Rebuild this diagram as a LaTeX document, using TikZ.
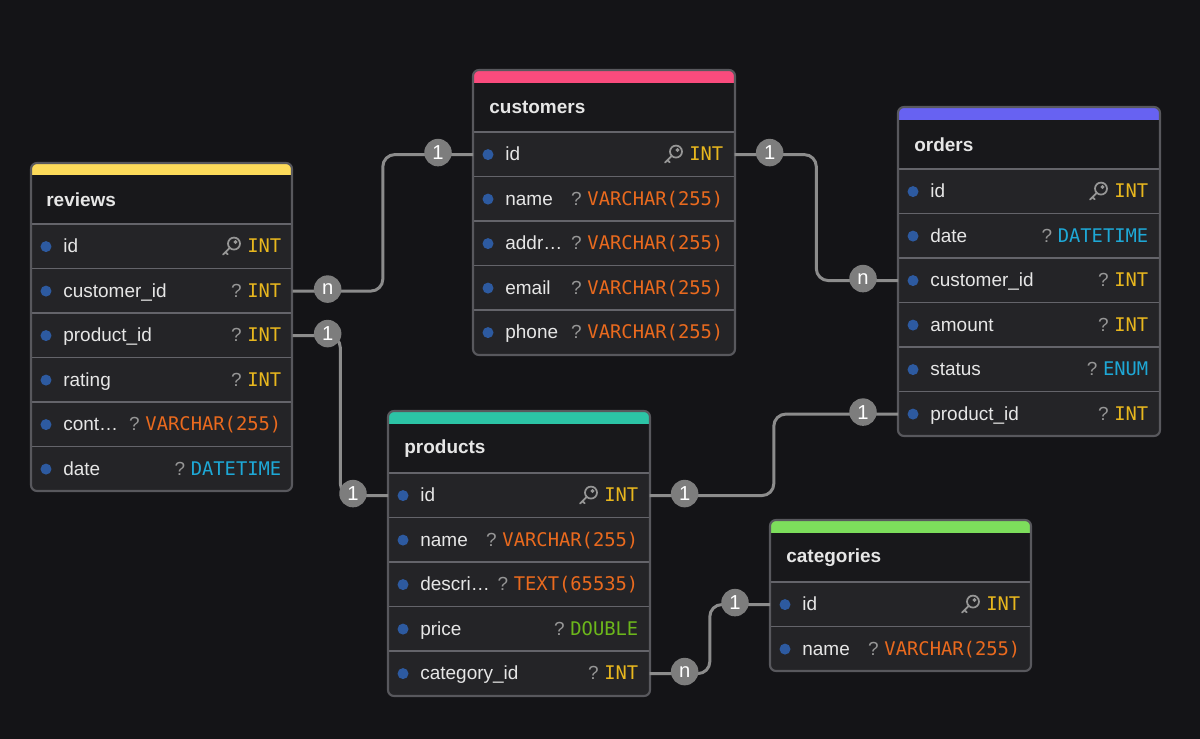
\documentclass[tikz,border=0pt]{standalone}
\usepackage{fontspec}
\setmainfont{Liberation Sans}
\setmonofont{DejaVu Sans Mono}
\usetikzlibrary{positioning,calc}
\definecolor{bgcolor}{RGB}{20,20,23}
\definecolor{headcolor}{RGB}{24,24,27}
\definecolor{rowcolor}{RGB}{36,36,39}
\definecolor{bordercolor}{RGB}{88,88,93}
\definecolor{sepcolor}{RGB}{100,100,106}
\definecolor{linkcolor}{RGB}{140,140,140}
\definecolor{badgecolor}{RGB}{125,125,125}
\definecolor{dotcolor}{RGB}{45,90,160}
\definecolor{namecolor}{RGB}{230,230,230}
\definecolor{qcolor}{RGB}{150,150,150}
\definecolor{intcolor}{RGB}{232,183,30}
\definecolor{varcolor}{RGB}{234,106,30}
\definecolor{datecolor}{RGB}{30,168,214}
\definecolor{dblcolor}{RGB}{108,183,27}
\definecolor{reviewcolor}{RGB}{252,218,90}
\definecolor{customercolor}{RGB}{250,75,125}
\definecolor{ordercolor}{RGB}{103,98,242}
\definecolor{productcolor}{RGB}{44,196,166}
\definecolor{categorycolor}{RGB}{125,222,92}

\begin{document}
\begin{tikzpicture}[x=0.02cm, y=-0.02cm,
    rowbox/.style={rectangle, fill=rowcolor, minimum width=5.22cm, minimum height=0.89cm, inner sep=0, anchor=north west},
    sepline/.style={draw=sepcolor, line width=0.8pt},
    tabborder/.style={draw=bordercolor, line width=1.2pt, rounded corners=0.12cm},
    tabtitle/.style={anchor=west, inner sep=0, text=namecolor, font=\fontsize{10.8}{13}\selectfont\bfseries},
    field/.style={anchor=west, inner sep=0, text=namecolor, font=\fontsize{10.8}{13}\selectfont, text height=0.88em, text depth=0.16em},
    ftype/.style={anchor=east, inner sep=0, font=\fontsize{10.7}{13}\selectfont\ttfamily, text height=0.88em, text depth=0.16em},
    qmark/.style={inner sep=0, text=qcolor, font=\fontsize{10.8}{13}\selectfont, text height=0.88em, text depth=0.16em},
    fdot/.style={circle, fill=dotcolor, minimum size=0.22cm, inner sep=0},
    link/.style={draw=linkcolor, line width=1.7pt, rounded corners=0.24cm},
    badge/.style={circle, fill=badgecolor, minimum size=0.55cm, inner sep=0, text=white, font=\fontsize{11.5}{12}\selectfont},
    pkey/.pic={
        \draw[qcolor, line width=1pt] (3,-3) circle[radius=0.12cm];
        \draw[qcolor, line width=0.7pt] (4.5,-4.5) circle[radius=0.025cm];
        \draw[qcolor, line width=1pt, line cap=round] (-1.2,1.2) -- (-8,8) (-5.5,5.5) -- (-3.3,7.7);
    }
]

\fill[bgcolor] (0,0) rectangle (1200,739);
\useasboundingbox (0,0) rectangle (1200,739);

% reviews
\begin{scope}
\clip[rounded corners=0.12cm] (31,163) rectangle (292,491);
\fill[headcolor] (31,163) rectangle (292,224);
\fill[reviewcolor] (31,163) rectangle (292,175);
\foreach \i/\nm/\lbl/\q/\ty/\tc in {0/id/id/{}/INT/intcolor, 1/cid/customer\_id/?/INT/intcolor,
    2/pid/product\_id/?/INT/intcolor, 3/rating/rating/?/INT/intcolor,
    4/cont/cont…/?/VARCHAR(255)/varcolor, 5/date/date/?/DATETIME/datecolor}{
  \node[rowbox] (rev-\nm) at (31,224+44.5*\i) {};
  \draw[sepline] (rev-\nm.north west) -- (rev-\nm.north east);
  \node[fdot] at ([xshift=0.3cm]rev-\nm.west) {};
  \node[field] at ([xshift=0.64cm]rev-\nm.west) {\lbl};
  \node[ftype, text=\tc] (rev-\nm-t) at ([xshift=-0.22cm]rev-\nm.east) {\ty};
  \node[qmark, left=0.1cm of rev-\nm-t] {\q};
}
\end{scope}
\draw[tabborder] (31,163) rectangle (292,491);
\node[tabtitle] (rev) at (46,199.5) {reviews};
\pic at ([xshift=-0.32cm]rev-id-t.west) {pkey};

% customers
\begin{scope}
\clip[rounded corners=0.12cm] (473,70) rectangle (735,355);
\fill[headcolor] (473,70) rectangle (735,132);
\fill[customercolor] (473,70) rectangle (735,83);
\foreach \i/\nm/\lbl/\q/\ty/\tc in {0/id/id/{}/INT/intcolor, 1/name/name/?/VARCHAR(255)/varcolor,
    2/addr/addr…/?/VARCHAR(255)/varcolor, 3/email/email/?/VARCHAR(255)/varcolor,
    4/phone/phone/?/VARCHAR(255)/varcolor}{
  \node[rowbox] (cus-\nm) at (473,132+44.5*\i) {};
  \draw[sepline] (cus-\nm.north west) -- (cus-\nm.north east);
  \node[fdot] at ([xshift=0.3cm]cus-\nm.west) {};
  \node[field] at ([xshift=0.64cm]cus-\nm.west) {\lbl};
  \node[ftype, text=\tc] (cus-\nm-t) at ([xshift=-0.22cm]cus-\nm.east) {\ty};
  \node[qmark, left=0.1cm of cus-\nm-t] {\q};
}
\end{scope}
\draw[tabborder] (473,70) rectangle (735,355);
\node[tabtitle] (cus) at (489,107.5) {customers};
\pic at ([xshift=-0.32cm]cus-id-t.west) {pkey};

% orders
\begin{scope}
\clip[rounded corners=0.12cm] (898,107) rectangle (1160,436);
\fill[headcolor] (898,107) rectangle (1160,169);
\fill[ordercolor] (898,107) rectangle (1160,120);
\foreach \i/\nm/\lbl/\q/\ty/\tc in {0/id/id/{}/INT/intcolor, 1/date/date/?/DATETIME/datecolor,
    2/cid/customer\_id/?/INT/intcolor, 3/amount/amount/?/INT/intcolor,
    4/status/status/?/ENUM/datecolor, 5/pid/product\_id/?/INT/intcolor}{
  \node[rowbox] (ord-\nm) at (898,169+44.5*\i) {};
  \draw[sepline] (ord-\nm.north west) -- (ord-\nm.north east);
  \node[fdot] at ([xshift=0.3cm]ord-\nm.west) {};
  \node[field] at ([xshift=0.64cm]ord-\nm.west) {\lbl};
  \node[ftype, text=\tc] (ord-\nm-t) at ([xshift=-0.22cm]ord-\nm.east) {\ty};
  \node[qmark, left=0.1cm of ord-\nm-t] {\q};
}
\end{scope}
\draw[tabborder] (898,107) rectangle (1160,436);
\node[tabtitle] (ord) at (914,144.5) {orders};
\pic at ([xshift=-0.32cm]ord-id-t.west) {pkey};

% products
\begin{scope}
\clip[rounded corners=0.12cm] (388,411) rectangle (650,696);
\fill[headcolor] (388,411) rectangle (650,473);
\fill[productcolor] (388,411) rectangle (650,424);
\foreach \i/\nm/\lbl/\q/\ty/\tc in {0/id/id/{}/INT/intcolor, 1/name/name/?/VARCHAR(255)/varcolor,
    2/descr/descri…/?/TEXT(65535)/varcolor, 3/price/price/?/DOUBLE/dblcolor,
    4/catid/category\_id/?/INT/intcolor}{
  \node[rowbox] (pro-\nm) at (388,473+44.5*\i) {};
  \draw[sepline] (pro-\nm.north west) -- (pro-\nm.north east);
  \node[fdot] at ([xshift=0.3cm]pro-\nm.west) {};
  \node[field] at ([xshift=0.64cm]pro-\nm.west) {\lbl};
  \node[ftype, text=\tc] (pro-\nm-t) at ([xshift=-0.22cm]pro-\nm.east) {\ty};
  \node[qmark, left=0.1cm of pro-\nm-t] {\q};
}
\end{scope}
\draw[tabborder] (388,411) rectangle (650,696);
\node[tabtitle] (pro) at (404,448.5) {products};
\pic at ([xshift=-0.32cm]pro-id-t.west) {pkey};

% categories
\begin{scope}
\clip[rounded corners=0.12cm] (770,520) rectangle (1031,671);
\fill[headcolor] (770,520) rectangle (1031,582);
\fill[categorycolor] (770,520) rectangle (1031,533);
\foreach \i/\nm/\lbl/\q/\ty/\tc in {0/id/id/{}/INT/intcolor, 1/name/name/?/VARCHAR(255)/varcolor}{
  \node[rowbox] (cat-\nm) at (770,582+44.5*\i) {};
  \draw[sepline] (cat-\nm.north west) -- (cat-\nm.north east);
  \node[fdot] at ([xshift=0.3cm]cat-\nm.west) {};
  \node[field] at ([xshift=0.64cm]cat-\nm.west) {\lbl};
  \node[ftype, text=\tc] (cat-\nm-t) at ([xshift=-0.22cm]cat-\nm.east) {\ty};
  \node[qmark, left=0.1cm of cat-\nm-t] {\q};
}
\end{scope}
\draw[tabborder] (770,520) rectangle (1031,671);
\node[tabtitle] (cat) at (786,557.5) {categories};
\pic at ([xshift=-0.32cm]cat-id-t.west) {pkey};

% Relations
\draw[link] (rev-cid.east) -| ($(rev-cid.east)!0.5!(cus-id.west)$) |- (cus-id.west);
\draw[link] (cus-id.east) -| ($(cus-id.east)!0.5!(ord-cid.west)$) |- (ord-cid.west);
\draw[link] (rev-pid.east) -| ($(rev-pid.east)!0.5!(pro-id.west)$) |- (pro-id.west);
\draw[link] (pro-id.east) -| ($(pro-id.east)!0.5!(ord-pid.west)$) |- (ord-pid.west);
\draw[link] (pro-catid.east) -| ($(pro-catid.east)!0.5!(cat-id.west)$) |- (cat-id.west);

% Cardinality badges
\node[badge] at ([xshift=0.7cm,yshift=0.04cm]rev-cid.east) {n};
\node[badge] at ([xshift=-0.7cm,yshift=0.04cm]cus-id.west) {1};
\node[badge] at ([xshift=0.7cm,yshift=0.04cm]cus-id.east) {1};
\node[badge] at ([xshift=-0.7cm,yshift=0.04cm]ord-cid.west) {n};
\node[badge] at ([xshift=0.7cm,yshift=0.04cm]rev-pid.east) {1};
\node[badge] at ([xshift=-0.7cm,yshift=0.04cm]pro-id.west) {1};
\node[badge] at ([xshift=0.7cm,yshift=0.04cm]pro-id.east) {1};
\node[badge] at ([xshift=-0.7cm,yshift=0.04cm]ord-pid.west) {1};
\node[badge] at ([xshift=0.7cm,yshift=0.04cm]pro-catid.east) {n};
\node[badge] at ([xshift=-0.7cm,yshift=0.04cm]cat-id.west) {1};

\end{tikzpicture}
\end{document}
